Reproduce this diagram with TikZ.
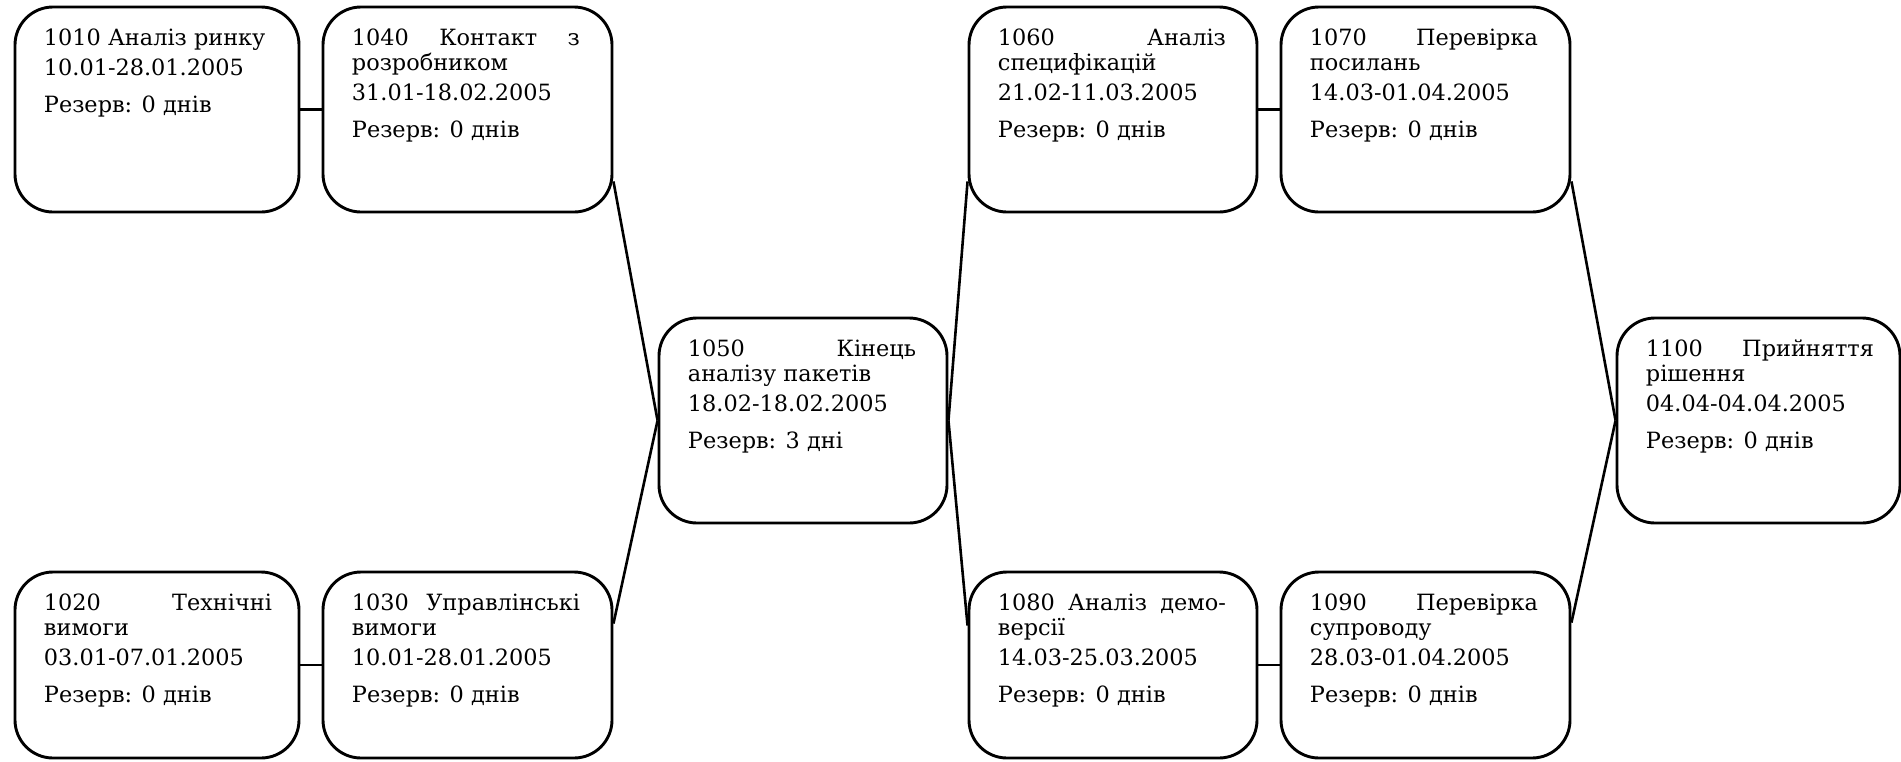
\documentclass[tikz,border=0pt]{standalone}
\usepackage{fontspec}
\setmainfont{DejaVu Serif}
\begin{document}
% one unit = one pixel of a 1901 x 761 canvas, y growing downwards
\begin{tikzpicture}[x=0.5pt,y=-0.5pt,
  taskbox/.style={draw, line width=1.45pt, rounded corners=19pt, inner sep=0pt},
  tasktext/.style={inner sep=0pt, anchor=base west,
    font=\fontsize{11.2pt}{12.5pt}\selectfont},
  conn/.style={line width=1.3pt}]
\useasboundingbox (0,0) rectangle (1901,761);

% #1 name, #2 x, #3 y, #4 width, #5 height, #6 text lines
\newcommand\taskcell[6]{%
  \node[taskbox, minimum width=#4, minimum height=#5] (#1) at (#2,#3) {};
  \node[tasktext] (#1t) at ([xshift=15pt,yshift=-20pt]#1.north west)
    {\parbox[t]{114pt}{\setlength\baselineskip{12.5pt}#6}};}
\newcommand\jl[1]{\makebox[\linewidth][s]{#1}}
\newcommand\pl[1]{\mbox{#1}}

\taskcell{n1010}{157}{109.5}{142pt}{102.5pt}{%
  \pl{1010 Аналіз ринку}\\[2.5pt] \pl{10.01-28.01.2005}\\[6pt] \pl{Резерв: 0 днів}}
\taskcell{n1040}{467.5}{109.5}{144.5pt}{102.5pt}{%
  \jl{1040 Контакт з}\\ \pl{розробником}\\[2.5pt] \pl{31.01-18.02.2005}\\[6pt] \pl{Резерв: 0 днів}}
\taskcell{n1020}{157}{665}{142pt}{93pt}{%
  \jl{1020 Технічні}\\ \pl{вимоги}\\[2.5pt] \pl{03.01-07.01.2005}\\[6pt] \pl{Резерв: 0 днів}}
\taskcell{n1030}{467.5}{665}{144.5pt}{93pt}{%
  \jl{1030 Управлінські}\\ \pl{вимоги}\\[2.5pt] \pl{10.01-28.01.2005}\\[6pt] \pl{Резерв: 0 днів}}
\taskcell{n1050}{803}{420.5}{144pt}{102.5pt}{%
  \jl{1050 Кінець}\\ \pl{аналізу пакетів}\\[2.5pt] \pl{18.02-18.02.2005}\\[6pt] \pl{Резерв: 3 дні}}
\taskcell{n1060}{1113}{109.5}{144pt}{102.5pt}{%
  \jl{1060 Аналіз}\\ \pl{специфікацій}\\[2.5pt] \pl{21.02-11.03.2005}\\[6pt] \pl{Резерв: 0 днів}}
\taskcell{n1070}{1425.5}{109.5}{144.5pt}{102.5pt}{%
  \jl{1070 Перевірка}\\ \pl{посилань}\\[2.5pt] \pl{14.03-01.04.2005}\\[6pt] \pl{Резерв: 0 днів}}
\taskcell{n1080}{1113}{665}{144pt}{93pt}{%
  \jl{1080 Аналіз демо-}\\ \pl{версії}\\[2.5pt] \pl{14.03-25.03.2005}\\[6pt] \pl{Резерв: 0 днів}}
\taskcell{n1090}{1425.5}{665}{144.5pt}{93pt}{%
  \jl{1090 Перевірка}\\ \pl{супроводу}\\[2.5pt] \pl{28.03-01.04.2005}\\[6pt] \pl{Резерв: 0 днів}}
\taskcell{n1100}{1758.5}{420.5}{141.5pt}{102.5pt}{%
  \jl{1100 Прийняття}\\ \pl{рішення}\\[2.5pt] \pl{04.04-04.04.2005}\\[6pt] \pl{Резерв: 0 днів}}

% dependencies
\draw[conn] (n1010.east) -- (n1040.west);
\draw[conn] (n1020.east) -- (n1030.west);
\draw[conn] ([yshift=16pt]n1040.south east) -- (n1050.west);
\draw[conn] ([yshift=-26.5pt]n1030.north east) -- (n1050.west);
\draw[conn] (n1050.east) -- ([yshift=16pt]n1060.south west);
\draw[conn] (n1050.east) -- ([yshift=-27.5pt]n1080.north west);
\draw[conn] (n1060.east) -- (n1070.west);
\draw[conn] (n1080.east) -- (n1090.west);
\draw[conn] ([yshift=16pt]n1070.south east) -- (n1100.west);
\draw[conn] ([yshift=-26pt]n1090.north east) -- (n1100.west);
\end{tikzpicture}
\end{document}
